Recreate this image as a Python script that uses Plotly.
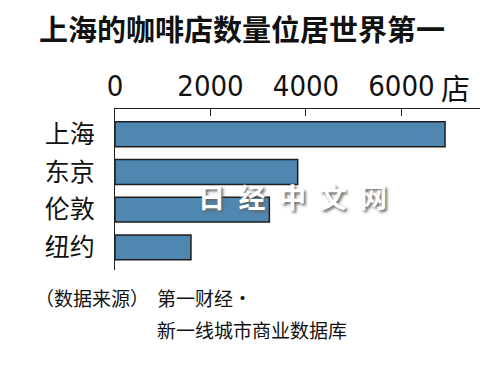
import plotly.graph_objects as go

# Data
cities = ["上海", "东京", "伦敦", "纽约"]
shops = [6913, 3826, 3233, 1591]
tick_vals = [0, 2000, 4000, 6000]
tick_text = ["0", "2000", "4000", "6000"]

title_text = "上海的咖啡店数量位居世界第一"
unit_text = "店"
source_label = "（数据来源）"
source_line1 = "第一财经・"
source_line2 = "新一线城市商业数据库"
watermark = "日经中文网"

CJK = "Noto Sans CJK SC"
NARROW = "Liberation Sans Narrow, DejaVu Sans Condensed, Arial Narrow, sans-serif"

# page body has an 8px default margin; compensate
OFF = 8
L, R, T, B = 115 - OFF, 20 + OFF, 109 - OFF, 103 + OFF
W, H = 500, 373

fig = go.Figure(go.Bar(
    x=shops, y=cities, orientation="h",
    marker=dict(color="#4f87b0", line=dict(color="#1e1e1e", width=1.5)),
    width=0.66,
))

fig.update_layout(
    width=W, height=H,
    margin=dict(l=L, r=R, t=T, b=B),
    paper_bgcolor="white", plot_bgcolor="white",
    showlegend=False,
    xaxis=dict(
        side="top", range=[0, 7645], tickvals=tick_vals, ticktext=tick_text,
        ticks="inside", ticklen=7, tickcolor="#222", tickwidth=1.3,
        showline=True, linecolor="#222", linewidth=1.3,
        showgrid=False, zeroline=False, automargin=False,
        tickfont=dict(family=NARROW, size=29, color="#111"),
    ),
    yaxis=dict(
        categoryorder="array", categoryarray=cities,
        range=[3.6, -0.67],
        showline=True, linecolor="#222", linewidth=1.3,
        showgrid=False, zeroline=False, ticks="", automargin=False,
        ticklabelstandoff=14,
        tickfont=dict(family=CJK, size=25, color="#111"),
    ),
)

anns = [
    dict(text="<b>" + title_text + "</b>", x=242, y=28, height=34, borderpad=0,
         font=dict(family=CJK, size=29, color="#111")),
    dict(text=unit_text, x=455, y=87, font=dict(family=CJK, size=29, color="#111")),
    dict(text=source_label, x=33, y=297, xanchor="left",
         font=dict(family=CJK, size=19, color="#111")),
    dict(text=source_line1, x=155, y=297, xanchor="left",
         font=dict(family=CJK, size=19, color="#111")),
    dict(text=source_line2, x=155, y=329, xanchor="left",
         font=dict(family=CJK, size=19, color="#111")),
    dict(text="<b>" + "\u2002".join(list(watermark)) + "</b>", x=292, y=196,
         font=dict(family=CJK, size=27, color="white", shadow="2px 2px 3px #666")),
]
for a in anns:
    base = dict(xref="paper", yref="paper", showarrow=False, xanchor="center", yanchor="middle")
    base.update(a)
    base["x"] = (a["x"] - 115) / (W - 115 - 20)
    base["y"] = (H - 103 - a["y"]) / (H - 109 - 103)
    fig.add_annotation(**base)

fig.write_html("out.html")
